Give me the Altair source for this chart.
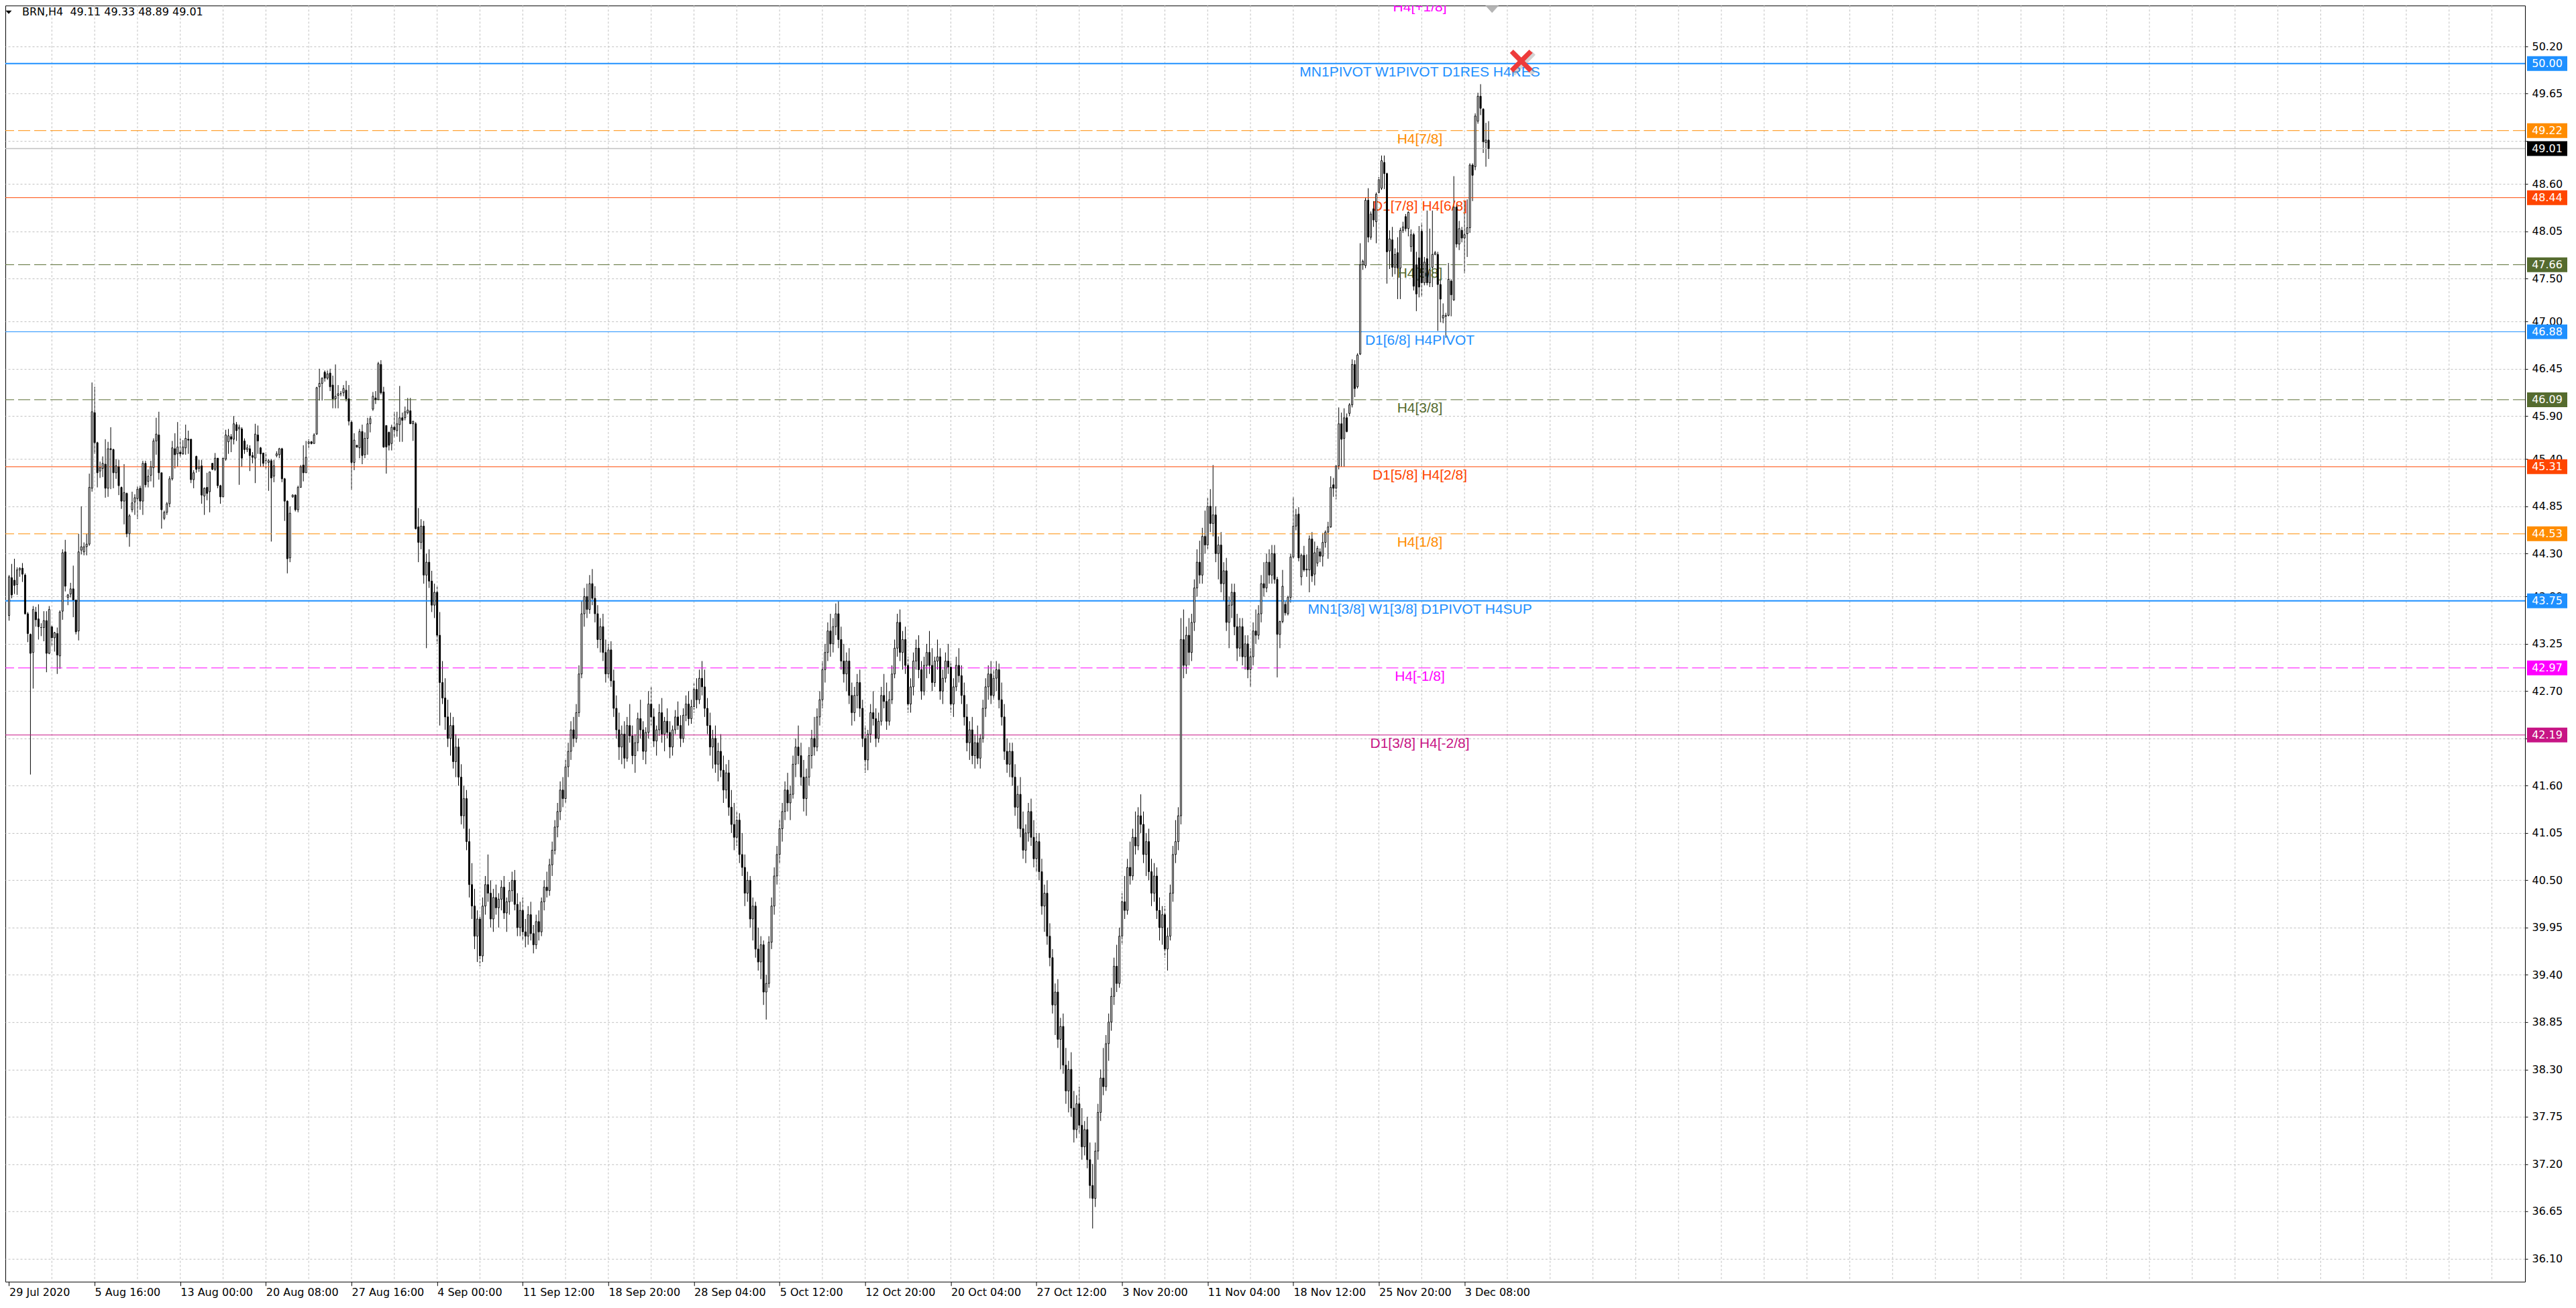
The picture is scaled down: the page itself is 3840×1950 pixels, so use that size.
import json
import altair as alt
import pandas as pd

# ---------------- data ----------------
HEADER = "BRN,H4\u00a0\u00a049.11 49.33 48.89 49.01"

# (open, high, low, close) of the H4 bars, bars 0-153
CANDLES_JUL_AUG = [
    (43.58, 44.05, 43.52, 44.03), (44.02, 44.18, 43.78, 43.82), (43.99, 44.24, 43.83, 43.93),
    (43.94, 44.14, 43.82, 44.11), (44.11, 44.14, 44.03, 44.13), (44.13, 44.19, 43.97, 44.06),
    (44.05, 44.07, 43.59, 43.60), (43.60, 43.62, 43.27, 43.37), (43.36, 43.37, 41.73, 43.14),
    (43.15, 43.69, 42.73, 43.65), (43.62, 43.68, 43.45, 43.53), (43.54, 43.71, 43.30, 43.45),
    (43.44, 43.49, 43.34, 43.44), (43.44, 43.63, 43.28, 43.52), (43.52, 43.63, 42.92, 43.14),
    (43.14, 43.69, 43.13, 43.65), (43.45, 43.47, 43.23, 43.32), (43.32, 43.39, 43.16, 43.38),
    (43.37, 43.44, 42.90, 43.12), (43.11, 43.64, 42.96, 43.62), (43.63, 44.35, 43.53, 44.31),
    (44.32, 44.46, 43.86, 43.92), (43.79, 43.83, 43.70, 43.82), (43.83, 43.96, 43.79, 43.89),
    (43.89, 44.16, 43.56, 43.76), (43.76, 43.76, 43.36, 43.39), (43.40, 44.53, 43.29, 44.32),
    (44.34, 44.85, 44.29, 44.38), (44.32, 44.43, 44.28, 44.38), (44.38, 44.53, 44.28, 44.41),
    (44.41, 45.23, 44.39, 45.07), (45.06, 46.29, 45.02, 45.95), (45.94, 46.24, 45.46, 45.59),
    (45.59, 45.60, 45.07, 45.24), (45.26, 45.37, 45.18, 45.30), (45.29, 45.43, 45.19, 45.35),
    (45.34, 45.63, 44.95, 45.06), (45.06, 45.60, 44.96, 45.52), (45.52, 45.77, 45.05, 45.51),
    (45.51, 45.52, 45.06, 45.24), (45.24, 45.40, 45.17, 45.32), (45.31, 45.39, 44.98, 45.09),
    (45.07, 45.08, 44.82, 44.91), (44.91, 45.34, 44.64, 45.01), (45.00, 45.01, 44.49, 44.53),
    (44.53, 44.76, 44.38, 44.74), (44.81, 45.02, 44.78, 44.89), (44.90, 44.99, 44.75, 44.95),
    (44.94, 45.08, 44.70, 45.05), (45.06, 45.09, 44.81, 44.91), (44.91, 45.38, 44.75, 45.35),
    (45.35, 45.38, 45.07, 45.10), (45.14, 45.28, 45.07, 45.20), (45.21, 45.38, 45.14, 45.31),
    (45.30, 45.64, 45.07, 45.61), (45.61, 45.88, 45.45, 45.69), (45.68, 45.95, 45.16, 45.24),
    (45.24, 45.24, 44.59, 44.81), (44.71, 44.80, 44.69, 44.78), (44.78, 44.90, 44.75, 44.88),
    (44.88, 45.20, 44.84, 45.17), (45.17, 45.61, 45.15, 45.53), (45.52, 45.70, 45.29, 45.45),
    (45.46, 45.83, 45.31, 45.54), (45.48, 45.64, 45.42, 45.46), (45.46, 45.62, 45.45, 45.54),
    (45.53, 45.80, 45.45, 45.64), (45.63, 45.73, 45.46, 45.62), (45.63, 45.63, 45.12, 45.16),
    (45.16, 45.27, 45.06, 45.24), (45.43, 45.44, 45.24, 45.28), (45.29, 45.39, 45.25, 45.31),
    (45.32, 45.39, 44.88, 44.98), (44.97, 45.07, 44.75, 45.06), (45.07, 45.24, 44.92, 45.00),
    (45.02, 45.25, 44.78, 45.25), (45.35, 45.35, 45.27, 45.28), (45.28, 45.47, 45.26, 45.41),
    (45.41, 45.41, 45.06, 45.09), (45.09, 45.10, 44.88, 44.96), (44.96, 45.41, 44.96, 45.41),
    (45.40, 45.74, 45.38, 45.68), (45.60, 45.75, 45.46, 45.67), (45.66, 45.69, 45.48, 45.63),
    (45.63, 45.90, 45.57, 45.81), (45.80, 45.83, 45.61, 45.73), (45.75, 45.80, 45.10, 45.77),
    (45.75, 45.77, 45.31, 45.41), (45.61, 45.64, 45.46, 45.51), (45.51, 45.57, 45.48, 45.53),
    (45.52, 45.56, 45.26, 45.44), (45.44, 45.48, 45.35, 45.42), (45.41, 45.81, 45.12, 45.69),
    (45.68, 45.79, 45.46, 45.61), (45.53, 45.54, 45.31, 45.46), (45.47, 45.47, 45.31, 45.35),
    (45.38, 45.48, 45.28, 45.38), (45.36, 45.40, 45.03, 45.38), (45.38, 45.40, 44.44, 45.18),
    (45.20, 45.39, 45.13, 45.32), (45.44, 45.49, 45.42, 45.46), (45.45, 45.53, 45.41, 45.52),
    (45.52, 45.53, 45.13, 45.17), (45.17, 45.18, 44.68, 44.91), (44.91, 44.92, 44.07, 44.24),
    (44.25, 44.85, 44.20, 44.77), (44.96, 44.99, 44.95, 44.98), (44.98, 44.99, 44.79, 44.81),
    (44.81, 45.09, 44.78, 45.07), (45.07, 45.33, 45.07, 45.31), (45.33, 45.56, 45.14, 45.24),
    (45.24, 45.61, 45.24, 45.42), (45.58, 45.63, 45.53, 45.60), (45.60, 45.61, 45.57, 45.58),
    (45.58, 45.70, 45.58, 45.68), (45.69, 46.24, 45.68, 46.23), (46.24, 46.45, 46.08, 46.28),
    (46.28, 46.35, 46.08, 46.34), (46.41, 46.43, 46.30, 46.34), (46.34, 46.43, 46.32, 46.39),
    (46.40, 46.45, 46.19, 46.24), (46.26, 46.37, 45.99, 46.10), (46.10, 46.50, 45.99, 46.13),
    (46.14, 46.26, 45.99, 46.16), (46.16, 46.19, 46.13, 46.16), (46.17, 46.26, 46.13, 46.22),
    (46.20, 46.31, 46.07, 46.10), (46.10, 46.26, 45.79, 45.84), (45.83, 45.85, 45.04, 45.36),
    (45.36, 45.70, 45.27, 45.62), (45.56, 45.56, 45.53, 45.54), (45.53, 45.75, 45.41, 45.72),
    (45.72, 45.80, 45.34, 45.44), (45.45, 45.71, 45.41, 45.64), (45.64, 45.88, 45.45, 45.81),
    (45.81, 45.90, 45.71, 45.87), (45.98, 46.18, 45.96, 46.13), (46.11, 46.19, 46.04, 46.09),
    (46.09, 46.53, 46.09, 46.51), (46.50, 46.55, 46.15, 46.17), (46.18, 46.24, 45.53, 45.54),
    (45.79, 45.79, 45.23, 45.54), (45.71, 45.72, 45.50, 45.56), (45.58, 45.80, 45.50, 45.77),
    (45.77, 45.95, 45.65, 45.74), (45.73, 45.95, 45.66, 45.81), (45.80, 46.25, 45.60, 45.88),
    (45.88, 45.94, 45.60, 45.85), (45.88, 46.01, 45.85, 45.95), (45.94, 46.11, 45.92, 45.97),
    (45.96, 46.11, 45.81, 45.81), (45.81, 45.84, 45.61, 45.84), (45.81, 45.83, 44.58, 44.59),
    (44.61, 44.83, 44.20, 44.43),
]

# bars 154-473
CANDLES_SEP_NOV = [
    (44.43, 44.70, 44.35, 44.62), (44.62, 44.68, 43.95, 44.05), (44.05, 44.30, 43.20, 44.20),
    (44.20, 44.35, 43.90, 43.98), (43.98, 44.10, 43.62, 43.70), (43.70, 43.95, 43.55, 43.85),
    (43.85, 43.92, 43.25, 43.35), (43.35, 43.62, 42.30, 42.80), (42.80, 43.05, 42.55, 42.62),
    (42.62, 42.85, 42.25, 42.40), (42.40, 42.60, 42.05, 42.15), (42.15, 42.45, 41.95, 42.30),
    (42.30, 42.40, 41.80, 41.88), (41.88, 42.20, 41.70, 42.05), (42.05, 42.15, 41.60, 41.70),
    (41.70, 41.85, 41.15, 41.25), (41.25, 41.60, 41.10, 41.45), (41.45, 41.55, 40.85, 40.95),
    (40.95, 41.10, 40.30, 40.45), (40.45, 40.70, 40.05, 40.20), (40.20, 40.40, 39.70, 39.85),
    (39.85, 40.15, 39.55, 40.05), (40.05, 40.10, 39.50, 39.62), (39.62, 40.30, 39.55, 40.20),
    (40.20, 40.55, 40.10, 40.45), (40.45, 40.80, 40.25, 40.35), (40.35, 40.50, 39.95, 40.05),
    (40.05, 40.40, 39.90, 40.30), (40.30, 40.45, 40.10, 40.18), (40.18, 40.35, 39.95, 40.28),
    (40.28, 40.50, 40.15, 40.42), (40.42, 40.55, 40.05, 40.12), (40.12, 40.30, 39.90, 40.25),
    (40.25, 40.48, 40.10, 40.38), (40.38, 40.60, 40.25, 40.50), (40.50, 40.62, 40.15, 40.22),
    (40.22, 40.35, 39.85, 39.95), (39.95, 40.25, 39.85, 40.15), (40.15, 40.30, 39.80, 39.90),
    (39.90, 40.05, 39.72, 39.85), (39.85, 40.20, 39.75, 40.10), (40.10, 40.25, 39.80, 39.88),
    (39.88, 39.98, 39.65, 39.75), (39.75, 40.10, 39.70, 40.02), (40.02, 40.15, 39.80, 39.90),
    (39.90, 40.30, 39.85, 40.25), (40.25, 40.50, 40.15, 40.42), (40.42, 40.60, 40.30, 40.38),
    (40.38, 40.75, 40.32, 40.68), (40.68, 40.95, 40.55, 40.85), (40.85, 41.20, 40.80, 41.12),
    (41.12, 41.40, 41.00, 41.30), (41.30, 41.65, 41.20, 41.55), (41.55, 41.70, 41.35, 41.45),
    (41.45, 41.90, 41.40, 41.82), (41.82, 42.10, 41.70, 42.00), (42.00, 42.35, 41.90, 42.25),
    (42.25, 42.40, 42.05, 42.15), (42.15, 42.55, 42.10, 42.45), (42.45, 43.00, 42.40, 42.90),
    (42.90, 43.75, 42.85, 43.60), (43.60, 43.90, 43.45, 43.80), (43.80, 43.95, 43.55, 43.65),
    (43.65, 44.05, 43.60, 43.95), (43.95, 44.12, 43.70, 43.78), (43.78, 43.92, 43.50, 43.60),
    (43.60, 43.70, 43.20, 43.30), (43.30, 43.55, 43.15, 43.45), (43.45, 43.60, 43.05, 43.15),
    (43.15, 43.30, 42.80, 42.90), (42.90, 43.25, 42.85, 43.18), (43.18, 43.28, 42.75, 42.82),
    (42.82, 42.95, 42.40, 42.50), (42.50, 42.65, 42.15, 42.25), (42.25, 42.45, 41.90, 42.05),
    (42.05, 42.30, 41.85, 42.20), (42.20, 42.35, 41.80, 41.92), (41.92, 42.40, 41.88, 42.30),
    (42.30, 42.55, 42.10, 42.18), (42.18, 42.30, 41.85, 41.95), (41.95, 42.20, 41.75, 42.10),
    (42.10, 42.45, 42.00, 42.38), (42.38, 42.60, 42.15, 42.25), (42.25, 42.35, 41.90, 42.00),
    (42.00, 42.28, 41.85, 42.22), (42.22, 42.70, 42.15, 42.55), (42.55, 42.75, 42.30, 42.40),
    (42.40, 42.50, 42.05, 42.12), (42.12, 42.30, 41.95, 42.25), (42.25, 42.55, 42.18, 42.45),
    (42.45, 42.62, 42.10, 42.20), (42.20, 42.40, 42.00, 42.35), (42.35, 42.50, 42.15, 42.22),
    (42.22, 42.35, 41.92, 42.05), (42.05, 42.30, 41.95, 42.25), (42.25, 42.48, 42.20, 42.40),
    (42.40, 42.58, 42.25, 42.30), (42.30, 42.42, 42.05, 42.15), (42.15, 42.50, 42.10, 42.42),
    (42.42, 42.65, 42.35, 42.55), (42.55, 42.70, 42.30, 42.38), (42.38, 42.60, 42.32, 42.52),
    (42.52, 42.80, 42.45, 42.72), (42.72, 42.85, 42.50, 42.60), (42.60, 42.95, 42.55, 42.85),
    (42.85, 43.05, 42.65, 42.75), (42.75, 42.95, 42.40, 42.50), (42.50, 42.62, 42.20, 42.30),
    (42.30, 42.45, 41.95, 42.05), (42.05, 42.25, 41.80, 42.15), (42.15, 42.30, 41.75, 41.85),
    (41.85, 42.10, 41.65, 42.00), (42.00, 42.20, 41.70, 41.78), (41.78, 41.95, 41.40, 41.55),
    (41.55, 41.85, 41.45, 41.75), (41.75, 41.90, 41.25, 41.35), (41.35, 41.55, 41.05, 41.15),
    (41.15, 41.40, 40.85, 41.00), (41.00, 41.30, 40.90, 41.20), (41.20, 41.28, 40.70, 40.80),
    (40.80, 41.05, 40.55, 40.65), (40.65, 40.80, 40.20, 40.35), (40.35, 40.60, 40.25, 40.50),
    (40.50, 40.55, 39.95, 40.05), (40.05, 40.30, 39.80, 40.20), (40.20, 40.25, 39.60, 39.70),
    (39.70, 39.95, 39.45, 39.55), (39.55, 39.85, 39.35, 39.75), (39.75, 39.80, 39.05, 39.20),
    (39.20, 39.40, 38.88, 39.30), (39.30, 39.85, 39.25, 39.78), (39.78, 40.30, 39.70, 40.20),
    (40.20, 40.65, 40.10, 40.55), (40.55, 40.90, 40.45, 40.80), (40.80, 41.20, 40.70, 41.10),
    (41.10, 41.40, 40.95, 41.30), (41.30, 41.65, 41.20, 41.55), (41.55, 41.75, 41.30, 41.40),
    (41.40, 41.60, 41.20, 41.50), (41.50, 41.95, 41.45, 41.85), (41.85, 42.15, 41.70, 42.05),
    (42.05, 42.30, 41.85, 41.95), (41.95, 42.10, 41.60, 41.70), (41.70, 41.90, 41.30, 41.45),
    (41.45, 41.80, 41.25, 41.70), (41.70, 42.05, 41.60, 41.95), (41.95, 42.25, 41.80, 42.15),
    (42.15, 42.40, 41.95, 42.05), (42.05, 42.50, 42.00, 42.40), (42.40, 42.70, 42.30, 42.60),
    (42.60, 43.05, 42.50, 42.95), (42.95, 43.25, 42.80, 43.15), (43.15, 43.50, 43.05, 43.40),
    (43.40, 43.60, 43.10, 43.25), (43.25, 43.55, 43.15, 43.45), (43.45, 43.72, 43.35, 43.60),
    (43.60, 43.75, 43.20, 43.30), (43.30, 43.45, 42.95, 43.05), (43.05, 43.25, 42.80, 42.90),
    (42.90, 43.15, 42.70, 43.05), (43.05, 43.20, 42.55, 42.65), (42.65, 42.80, 42.30, 42.45),
    (42.45, 42.75, 42.35, 42.65), (42.65, 42.90, 42.50, 42.80), (42.80, 42.95, 42.40, 42.50),
    (42.50, 42.60, 42.05, 42.15), (42.15, 42.30, 41.75, 41.90), (41.90, 42.25, 41.78, 42.20),
    (42.20, 42.55, 42.10, 42.45), (42.45, 42.70, 42.30, 42.38), (42.38, 42.50, 42.05, 42.15),
    (42.15, 42.45, 42.10, 42.35), (42.35, 42.75, 42.30, 42.65), (42.65, 42.90, 42.50, 42.58),
    (42.58, 42.80, 42.25, 42.35), (42.35, 42.70, 42.30, 42.60), (42.60, 43.00, 42.55, 42.90),
    (42.90, 43.30, 42.85, 43.20), (43.20, 43.60, 43.10, 43.50), (43.50, 43.65, 43.05, 43.15),
    (43.15, 43.40, 42.95, 43.30), (43.30, 43.45, 42.90, 43.00), (43.00, 43.10, 42.45, 42.55),
    (42.55, 42.85, 42.45, 42.75), (42.75, 43.15, 42.65, 43.05), (43.05, 43.30, 42.95, 43.20),
    (43.20, 43.35, 42.85, 42.95), (42.95, 43.05, 42.60, 42.70), (42.70, 43.10, 42.65, 43.00),
    (43.00, 43.25, 42.85, 43.15), (43.15, 43.40, 42.90, 43.00), (43.00, 43.20, 42.70, 42.80),
    (42.80, 43.10, 42.75, 43.05), (43.05, 43.30, 42.95, 43.10), (43.10, 43.20, 42.60, 42.70),
    (42.70, 42.95, 42.55, 42.85), (42.85, 43.15, 42.80, 43.05), (43.05, 43.25, 42.90, 42.98),
    (42.98, 43.05, 42.45, 42.55), (42.55, 42.85, 42.40, 42.75), (42.75, 43.10, 42.70, 43.00),
    (43.00, 43.20, 42.80, 42.88), (42.88, 43.00, 42.55, 42.65), (42.65, 42.80, 42.30, 42.40),
    (42.40, 42.55, 42.00, 42.10), (42.10, 42.35, 41.90, 42.25), (42.25, 42.40, 41.85, 41.95),
    (41.95, 42.20, 41.80, 42.10), (42.10, 42.30, 41.85, 41.92), (41.92, 42.20, 41.80, 42.15),
    (42.15, 42.60, 42.10, 42.50), (42.50, 42.85, 42.40, 42.75), (42.75, 43.00, 42.60, 42.90),
    (42.90, 43.05, 42.55, 42.65), (42.65, 42.95, 42.60, 42.85), (42.85, 43.05, 42.70, 42.95),
    (42.95, 43.02, 42.50, 42.60), (42.60, 42.80, 42.30, 42.40), (42.40, 42.55, 41.90, 42.00),
    (42.00, 42.15, 41.75, 41.85), (41.85, 42.10, 41.70, 42.00), (42.00, 42.10, 41.60, 41.70),
    (41.70, 41.85, 41.25, 41.35), (41.35, 41.60, 41.10, 41.50), (41.50, 41.70, 41.00, 41.10),
    (41.10, 41.30, 40.75, 40.85), (40.85, 41.15, 40.70, 41.05), (41.05, 41.40, 40.95, 41.30),
    (41.30, 41.45, 40.90, 41.00), (41.00, 41.20, 40.65, 40.75), (40.75, 41.05, 40.60, 40.95),
    (40.95, 41.05, 40.50, 40.60), (40.60, 40.75, 40.10, 40.20), (40.20, 40.45, 39.90, 40.35),
    (40.35, 40.50, 39.75, 39.85), (39.85, 40.00, 39.50, 39.60), (39.60, 39.70, 38.95, 39.05),
    (39.05, 39.30, 38.70, 39.20), (39.20, 39.35, 38.55, 38.65), (38.65, 38.90, 38.30, 38.80),
    (38.80, 38.95, 38.25, 38.35), (38.35, 38.55, 37.90, 38.05), (38.05, 38.40, 37.80, 38.30),
    (38.30, 38.50, 37.75, 37.85), (37.85, 38.05, 37.45, 37.60), (37.60, 38.00, 37.50, 37.90),
    (37.90, 38.10, 37.55, 37.65), (37.65, 37.85, 37.25, 37.40), (37.40, 37.70, 37.30, 37.60),
    (37.60, 37.75, 37.15, 37.25), (37.25, 37.45, 36.80, 36.95), (36.95, 37.20, 36.45, 36.80),
    (36.80, 37.45, 36.70, 37.35), (37.35, 37.90, 37.25, 37.80), (37.80, 38.30, 37.70, 38.20),
    (38.20, 38.55, 38.00, 38.10), (38.10, 38.70, 38.05, 38.60), (38.60, 38.95, 38.40, 38.85),
    (38.85, 39.25, 38.75, 39.15), (39.15, 39.60, 39.05, 39.50), (39.50, 39.75, 39.20, 39.30),
    (39.30, 39.95, 39.25, 39.85), (39.85, 40.35, 39.75, 40.25), (40.25, 40.55, 40.05, 40.15),
    (40.15, 40.75, 40.10, 40.65), (40.65, 40.95, 40.45, 40.55), (40.55, 41.10, 40.50, 41.00),
    (41.00, 41.30, 40.80, 40.90), (40.90, 41.35, 40.85, 41.25), (41.25, 41.50, 41.05, 41.15),
    (41.15, 41.30, 40.70, 40.80), (40.80, 41.05, 40.55, 40.95), (40.95, 41.10, 40.50, 40.60),
    (40.60, 40.75, 40.20, 40.35), (40.35, 40.70, 40.25, 40.55), (40.55, 40.65, 40.05, 40.15),
    (40.15, 40.30, 39.80, 39.95), (39.95, 40.20, 39.75, 40.10), (40.10, 40.20, 39.60, 39.70),
    (39.70, 39.95, 39.45, 39.85), (39.85, 40.45, 39.80, 40.35), (40.35, 40.90, 40.25, 40.80),
    (40.80, 41.20, 40.70, 40.95), (40.95, 41.35, 40.85, 41.25), (41.25, 43.55, 41.15, 43.30),
    (43.30, 43.65, 42.85, 43.00), (43.00, 43.45, 42.90, 43.35), (43.35, 43.55, 43.00, 43.15),
    (43.15, 43.60, 43.05, 43.50), (43.50, 44.00, 43.40, 43.90), (43.90, 44.35, 43.80, 44.20),
    (44.20, 44.45, 43.95, 44.05), (44.05, 44.60, 43.95, 44.50), (44.50, 44.80, 44.30, 44.40),
    (44.40, 44.95, 44.35, 44.85), (44.85, 45.05, 44.55, 44.65), (44.65, 45.33, 44.50, 44.75),
    (44.75, 44.85, 44.20, 44.30), (44.30, 44.50, 44.00, 44.40), (44.40, 44.55, 43.85, 43.95),
    (43.95, 44.20, 43.75, 44.10), (44.10, 44.25, 43.40, 43.50), (43.50, 43.80, 43.20, 43.70),
    (43.70, 43.95, 43.55, 43.85), (43.85, 43.95, 43.35, 43.45), (43.45, 43.60, 43.05, 43.20),
    (43.20, 43.55, 43.10, 43.45), (43.45, 43.55, 43.00, 43.10), (43.10, 43.35, 42.95, 43.25),
    (43.25, 43.35, 42.85, 42.95), (42.95, 43.20, 42.75, 43.10), (43.10, 43.50, 43.00, 43.40),
    (43.40, 43.65, 43.25, 43.35), (43.35, 43.70, 43.30, 43.60), (43.60, 44.05, 43.50, 43.95),
    (43.95, 44.20, 43.80, 43.90), (43.90, 44.30, 43.85, 44.20), (44.20, 44.35, 43.95, 44.05),
    (44.05, 44.40, 43.95, 44.30), (44.30, 44.40, 43.95, 44.00),
]

# bars 474-553
CANDLES_NOV_DEC = [
    (44.00, 44.03, 42.86, 43.36), (43.36, 43.52, 43.20, 43.51), (43.51, 44.11, 43.49, 43.92),
    (43.71, 43.75, 43.58, 43.61), (43.60, 43.81, 43.58, 43.79), (43.79, 44.30, 43.73, 44.26),
    (44.26, 44.96, 44.24, 44.62), (44.62, 44.82, 44.57, 44.75), (44.76, 44.84, 44.21, 44.25),
    (44.03, 44.30, 43.93, 44.28), (44.28, 44.39, 44.09, 44.11), (44.11, 44.29, 44.03, 44.12),
    (44.11, 44.51, 43.85, 44.47), (44.47, 44.55, 43.97, 44.04), (44.06, 44.44, 43.93, 44.31),
    (44.19, 44.39, 44.15, 44.36), (44.32, 44.36, 44.20, 44.27), (44.27, 44.54, 44.15, 44.43),
    (44.43, 44.57, 44.37, 44.55), (44.55, 44.67, 44.24, 44.61), (44.61, 45.20, 44.60, 45.07),
    (45.10, 45.18, 44.96, 45.06), (45.06, 45.32, 44.93, 45.32), (45.32, 46.00, 45.28, 45.81),
    (45.81, 45.94, 45.31, 45.63), (45.64, 45.99, 45.31, 45.88), (45.88, 45.93, 45.71, 45.72),
    (45.93, 46.05, 45.90, 46.03), (46.03, 46.56, 46.00, 46.50), (46.50, 46.55, 46.12, 46.22),
    (46.24, 46.63, 46.22, 46.61), (46.62, 47.91, 46.61, 47.66), (47.66, 47.72, 47.60, 47.70),
    (47.65, 48.44, 47.62, 48.41), (48.41, 48.55, 47.92, 47.98), (47.98, 48.28, 47.95, 48.25),
    (48.31, 48.40, 48.10, 48.18), (48.16, 48.50, 47.91, 48.48), (48.50, 48.68, 48.49, 48.65),
    (48.55, 48.93, 48.53, 48.87), (48.85, 48.93, 48.54, 48.72), (48.72, 48.73, 47.44, 47.81),
    (47.82, 48.06, 47.61, 47.96), (47.95, 48.10, 47.52, 47.63), (47.63, 47.85, 47.55, 47.78),
    (47.80, 47.98, 47.26, 47.62), (47.62, 48.09, 47.26, 48.06), (48.06, 48.16, 48.03, 48.10),
    (48.22, 48.25, 48.05, 48.08), (48.08, 48.28, 47.99, 48.27), (47.87, 48.07, 47.81, 48.01),
    (48.01, 48.03, 47.36, 47.41), (47.66, 47.81, 47.12, 47.32), (47.74, 48.11, 47.28, 47.40),
    (48.05, 48.15, 47.29, 47.45), (47.45, 47.75, 47.42, 47.69), (47.73, 48.29, 47.42, 47.45),
    (47.45, 48.08, 47.40, 47.60), (47.63, 48.29, 47.40, 47.78), (47.78, 47.82, 47.77, 47.80),
    (47.78, 47.81, 46.89, 47.43), (47.43, 47.50, 46.99, 47.26), (47.04, 47.21, 46.98, 47.07),
    (47.06, 47.10, 46.81, 47.07), (47.07, 47.68, 47.06, 47.49), (47.47, 47.49, 47.06, 47.31),
    (47.25, 48.69, 47.24, 48.33), (48.33, 48.36, 47.86, 47.90), (47.90, 48.17, 47.83, 48.08),
    (48.06, 48.10, 47.92, 47.97), (47.97, 48.40, 47.56, 48.01), (48.02, 48.42, 47.75, 48.09),
    (48.09, 48.84, 48.03, 48.82), (48.82, 48.84, 48.40, 48.70), (48.80, 49.42, 48.76, 49.39),
    (49.33, 49.66, 49.30, 49.62), (49.62, 49.76, 49.40, 49.48), (49.47, 49.48, 48.96, 49.09),
    (49.08, 49.31, 48.80, 49.11), (49.11, 49.33, 48.89, 49.01),
]
SEGMENT_START = [0, 154, 474]

X_LABELS = ["29 Jul 2020", "5 Aug 16:00", "13 Aug 00:00", "20 Aug 08:00", "27 Aug 16:00",
            "4 Sep 00:00", "11 Sep 12:00", "18 Sep 20:00", "28 Sep 04:00", "5 Oct 12:00",
            "12 Oct 20:00", "20 Oct 04:00", "27 Oct 12:00", "3 Nov 20:00", "11 Nov 04:00",
            "18 Nov 12:00", "25 Nov 20:00", "3 Dec 08:00"]
LABEL_STEP = 32          # bars between time labels
GRID_STEP = 16           # bars between vertical grid lines
Y_TICKS = [36.10, 36.65, 37.20, 37.75, 38.30, 38.85, 39.40, 39.95, 40.50, 41.05, 41.60,
           42.15, 42.70, 43.25, 43.80, 44.30, 44.85, 45.40, 45.90, 46.45, 47.00, 47.50,
           48.05, 48.60, 49.10, 49.65, 50.20]

LEVEL_PRICES = [50.78, 50.00, 49.22, 48.44, 47.66, 46.88, 46.09, 45.31, 44.53, 43.75, 42.97, 42.19]
LEVEL_TEXTS = ["H4[+1/8]", "MN1PIVOT W1PIVOT D1RES H4RES", "H4[7/8]", "D1[7/8] H4[6/8]",
               "H4[5/8]", "D1[6/8] H4PIVOT", "H4[3/8]", "D1[5/8] H4[2/8]", "H4[1/8]",
               "MN1[3/8] W1[3/8] D1PIVOT H4SUP", "H4[-1/8]", "D1[3/8] H4[-2/8]"]
LEVEL_COLORS = ["#FF00FF", "#1E90FF", "#FF8C00", "#FF4500", "#556B2F", "#1E90FF",
                "#556B2F", "#FF4500", "#FF8C00", "#1E90FF", "#FF00FF", "#C71585"]
LEVEL_DASHED = [True, False, True, False, True, False, True, False, True, False, True, False]
LEVEL_WIDTH = [1, 2, 1, 1, 1, 1, 1, 1, 1, 2, 1, 1]
LEVEL_LABEL_BAR = 527.3

LAST_PRICE = 49.01
SHIFT_MARK_BAR = 554.3
CLOSE_MARK_BAR = 565.2
CLOSE_MARK_PRICE = 50.03

# ---------------- layout ----------------
W, H = 3757, 1903
PX_PER_UNIT = 100 / 0.78
Y_TOP = 50.00 + 86.5 / PX_PER_UNIT
X_DOMAIN = [-0.125, -0.125 + W / 4]
Y_DOMAIN = [Y_TOP - H / PX_PER_UNIT, Y_TOP]
FONT = "DejaVu Sans"

rows = []
for start, seg in zip(SEGMENT_START, [CANDLES_JUL_AUG, CANDLES_SEP_NOV, CANDLES_NOV_DEC]):
    for k, (o, h, l, c) in enumerate(seg):
        rows.append({"i": start + k, "o": o, "h": max(h, o, c), "l": min(l, o, c), "c": c})
candles = pd.DataFrame(rows)

levels = pd.DataFrame({"p": LEVEL_PRICES, "t": LEVEL_TEXTS, "col": LEVEL_COLORS,
                       "dash": LEVEL_DASHED, "w": LEVEL_WIDTH})
levels["lx"] = LEVEL_LABEL_BAR
visible = levels[levels["p"] <= Y_DOMAIN[1]]
above = levels[levels["p"] > Y_DOMAIN[1]]

boxes = pd.concat([
    visible[["p", "col"]],
    pd.DataFrame({"p": [LAST_PRICE], "col": ["#000000"]}),
]).reset_index(drop=True)
boxes["t"] = boxes["p"].map(lambda v: f"{v:.2f}")

grid = pd.DataFrame({"g": list(range(GRID_STEP, int(X_DOMAIN[1]) + 1, GRID_STEP))})
header = pd.DataFrame({"t": [HEADER]})
marks = pd.DataFrame({"sx": [SHIFT_MARK_BAR], "cx": [CLOSE_MARK_BAR], "cy": [CLOSE_MARK_PRICE]})
shadow = pd.DataFrame({"cx": [CLOSE_MARK_BAR + 0.8], "cy": [CLOSE_MARK_PRICE - 3.5 / PX_PER_UNIT]})

xs = alt.Scale(domain=X_DOMAIN, nice=False, zero=False)
ys = alt.Scale(domain=Y_DOMAIN, nice=False, zero=False)

label_expr = json.dumps(X_LABELS) + f"[round(datum.value / {LABEL_STEP})]"
x_axis = alt.Axis(values=[LABEL_STEP * k for k in range(len(X_LABELS))], labelExpr=label_expr,
                  grid=False, domain=False, tickSize=6, tickColor="black", labelAlign="left",
                  labelFlush=False, labelOverlap=False, labelFont=FONT, labelFontSize=16,
                  labelColor="black", labelPadding=2, title=None)
y_axis = alt.Axis(orient="right", values=Y_TICKS,
                  labelExpr="datum.value == 49.1 ? '' : format(datum.value, '.2f')",
                  grid=True, gridDash=[3, 3], gridColor="#C0C0C0", gridWidth=1, domain=False,
                  tickSize=4, tickColor="black", labelFont=FONT, labelFontSize=16,
                  labelColor="black", labelPadding=6, labelOverlap=False, labelFlush=False,
                  title=None)


def X(field):
    return alt.X(field, type="quantitative", scale=xs, axis=x_axis)


def Y(field):
    return alt.Y(field, type="quantitative", scale=ys, axis=y_axis)


BOX_PATH = "M-2.727,-1L2.727,-1L2.727,1L-2.727,1Z"
TRI_PATH = "M-1,-0.55L1,-0.55L0,0.55Z"
X_PATH = ("M-1,-0.7L-0.7,-1L0,-0.3L0.7,-1L1,-0.7L0.3,0L1,0.7L0.7,1L0,0.3"
          "L-0.7,1L-1,0.7L-0.3,0Z")

vgrid = alt.Chart(grid).mark_rule(color="#C0C0C0", strokeDash=[3, 3], strokeWidth=1).encode(
    x=X("g"))

solid_lines = alt.Chart(visible[~visible["dash"]]).mark_rule(clip=True).encode(
    y=Y("p"),
    color=alt.Color("col:N", scale=None),
    strokeWidth=alt.StrokeWidth("w:Q", scale=None))

dashed_lines = alt.Chart(visible[visible["dash"]]).mark_rule(clip=True, strokeDash=[18, 6]).encode(
    y=Y("p"),
    color=alt.Color("col:N", scale=None),
    strokeWidth=alt.StrokeWidth("w:Q", scale=None))

price_line = alt.Chart(pd.DataFrame({"p": [LAST_PRICE]})).mark_rule(
    color="#C0C0C0", strokeWidth=1.5).encode(y=Y("p"))

level_text = alt.Chart(visible).mark_text(
    align="center", baseline="alphabetic", dy=19, font="Liberation Sans", fontSize=21,
    clip=True).encode(
    x=X("lx"),
    y=Y("p"),
    text="t:N",
    color=alt.Color("col:N", scale=None))

# label of the level above the visible range: only its lower part shows at the top edge
top_level_text = alt.Chart(above).mark_text(
    align="center", baseline="alphabetic", dy=22, font="Liberation Sans", fontSize=21,
    clip=True).encode(
    x=X("lx"),
    y=Y("p"),
    text="t:N",
    color=alt.Color("col:N", scale=None))

wicks = alt.Chart(candles).mark_rule(color="black", strokeWidth=1, clip=True).encode(
    x=X("i"),
    y=Y("l"),
    y2="h:Q")

bodies = alt.Chart(candles).mark_bar(
    width=2, stroke="black", strokeWidth=1, clip=True, orient="vertical").encode(
    x=X("i"),
    y=Y("o"),
    y2="c:Q",
    fill=alt.condition("datum.c >= datum.o", alt.value("white"), alt.value("black")))

box_rects = alt.Chart(boxes).mark_point(
    shape=BOX_PATH, filled=True, size=484, opacity=1, strokeWidth=0).encode(
    x=alt.value(W + 33),
    y=Y("p"),
    color=alt.Color("col:N", scale=None))

box_text = alt.Chart(boxes).mark_text(
    font=FONT, fontSize=16, color="white", align="center", baseline="middle").encode(
    x=alt.value(W + 33),
    y=Y("p"),
    text="t:N")

header_text = alt.Chart(header).mark_text(
    align="left", baseline="middle", font=FONT, fontSize=16, color="black").encode(
    x=alt.value(25), y=alt.value(10), text="t:N")

header_tri = alt.Chart(header).mark_point(
    shape=TRI_PATH, filled=True, size=81, opacity=1, color="black", strokeWidth=0).encode(
    x=alt.value(5), y=alt.value(10))

shift_mark = alt.Chart(marks).mark_point(
    shape=TRI_PATH, filled=True, size=400, opacity=1, color="#B4B4B4", strokeWidth=0).encode(
    x=X("sx"), y=alt.value(5.5))

close_shadow = alt.Chart(shadow).mark_point(
    shape=X_PATH, filled=True, size=1300, opacity=0.35, color="#808080", strokeWidth=0).encode(
    x=X("cx"),
    y=Y("cy"))

close_mark = alt.Chart(marks).mark_point(
    shape=X_PATH, filled=True, size=1156, opacity=1, color="#EE3B3B", strokeWidth=0).encode(
    x=X("cx"),
    y=Y("cy"))

chart = alt.layer(
    wicks, vgrid, solid_lines, dashed_lines, price_line, level_text, top_level_text, bodies,
    box_rects, box_text, header_tri, header_text, shift_mark, close_shadow, close_mark,
).properties(
    width=W, height=H,
    autosize=alt.AutoSizeParams(type="none"),
    padding={"left": 0, "top": 0, "right": 68, "bottom": 29},
    background="white",
).configure_view(stroke="black", strokeWidth=1)

chart.save("out.html", embed_options={"renderer": "svg", "actions": False})
